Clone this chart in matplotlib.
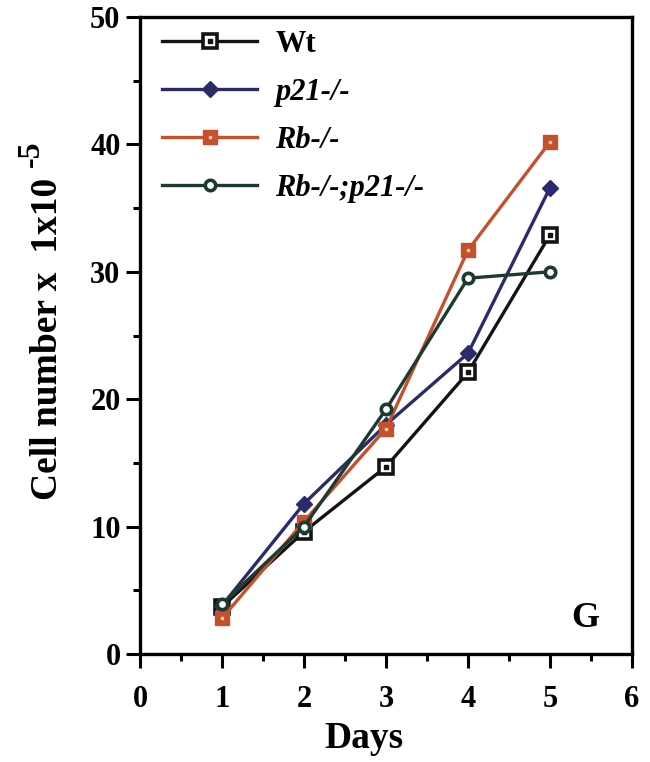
import matplotlib
matplotlib.use("Agg")
import matplotlib.pyplot as plt
from matplotlib.ticker import MultipleLocator

plt.rcParams['font.family'] = ['Liberation Serif', 'DejaVu Serif']

days = [1, 2, 3, 4, 5]
wt = [3.7, 9.6, 14.7, 22.1, 32.9]
p21 = [3.8, 11.8, 18.0, 23.6, 36.6]
rb = [2.8, 10.4, 17.7, 31.7, 40.2]
rb_p21 = [3.9, 10.0, 19.2, 29.5, 30.0]

series_labels = ["Wt", "p21-/-", "Rb-/-", "Rb-/-;p21-/-"]
x_ticks = [0, 1, 2, 3, 4, 5, 6]
y_ticks = [0, 10, 20, 30, 40, 50]

c_wt = "#141414"
c_p21 = "#2b2a6c"
c_rb = "#c5502c"
c_dko = "#1d3a2e"

fig = plt.figure(figsize=(6.5, 7.62), dpi=100)
ax = fig.add_axes([140 / 650, 1 - 654 / 762, 492 / 650, 637 / 762])

lw = 2.4
h_wt = ax.plot(days, wt, color=c_wt, lw=lw, marker='s', ms=9.5, mfc='white',
               mec=c_wt, mew=2.6, zorder=3)[0]
h_wt_dot = ax.plot(days, wt, ls='none', marker='s', ms=2.2, mfc=c_wt,
                   mec=c_wt, zorder=3.1)[0]
h_p21 = ax.plot(days, p21, color=c_p21, lw=lw, marker='D', ms=8.5, mfc=c_p21,
                mec=c_p21, zorder=4)[0]
h_rb = ax.plot(days, rb, color=c_rb, lw=lw, marker='s', ms=10, mfc=c_rb,
               mec=c_rb, zorder=5)[0]
h_rb_dot = ax.plot(days, rb, ls='none', marker='s', ms=1.5, mfc='#f0d0c0',
                   mec='#f0d0c0', zorder=5.1)[0]
h_dko = ax.plot(days, rb_p21, color=c_dko, lw=lw, marker='o', ms=7.5, mfc='white',
                mec=c_dko, mew=2.6, zorder=6)[0]

ax.set_xlim(0, 6)
ax.set_ylim(0, 50)
ax.set_xticks(x_ticks)
ax.set_yticks(y_ticks)
ax.xaxis.set_minor_locator(MultipleLocator(0.5))
ax.yaxis.set_minor_locator(MultipleLocator(5))
ax.tick_params(which='major', direction='out', length=10, width=2.2,
               labelsize=22, top=False, right=False)
ax.tick_params(which='minor', direction='out', length=5, width=2.2,
               top=False, right=False)
ax.tick_params(axis='x', which='major', pad=12)
ax.tick_params(axis='y', which='major', pad=4)
for lab in ax.get_xticklabels() + ax.get_yticklabels():
    lab.set_fontweight('bold')
for s in ax.spines.values():
    s.set_linewidth(2.4)

ax.set_xlabel("Days", fontsize=27, fontweight='bold')
ax.xaxis.set_label_coords(0.455, -0.105)
ax.set_ylabel("Cell number x  1x10", fontsize=27, fontweight='bold')
ax.yaxis.set_label_coords(-0.152, 0.494)
# exponent of the y-axis unit, written with a plain hyphen
fig.text(31 / 650, 1 - 154 / 762, "-5", rotation=90, fontsize=23,
         fontweight='bold', ha='center', va='center')

leg = ax.legend([(h_wt, h_wt_dot), h_p21, (h_rb, h_rb_dot), h_dko], series_labels,
                loc='upper left', bbox_to_anchor=(0.045, 0.98), borderaxespad=0,
                borderpad=0, frameon=False, handlelength=3.1, handletextpad=0.6,
                labelspacing=0.62, prop={'size': 22, 'weight': 'bold'})
for i, t in enumerate(leg.get_texts()):
    if i > 0:
        t.set_fontstyle('italic')

ax.text(0.906, 0.055, "G", transform=ax.transAxes, fontsize=26,
        fontweight='bold', ha='center', va='center')

fig.savefig("out.png", dpi=100)
